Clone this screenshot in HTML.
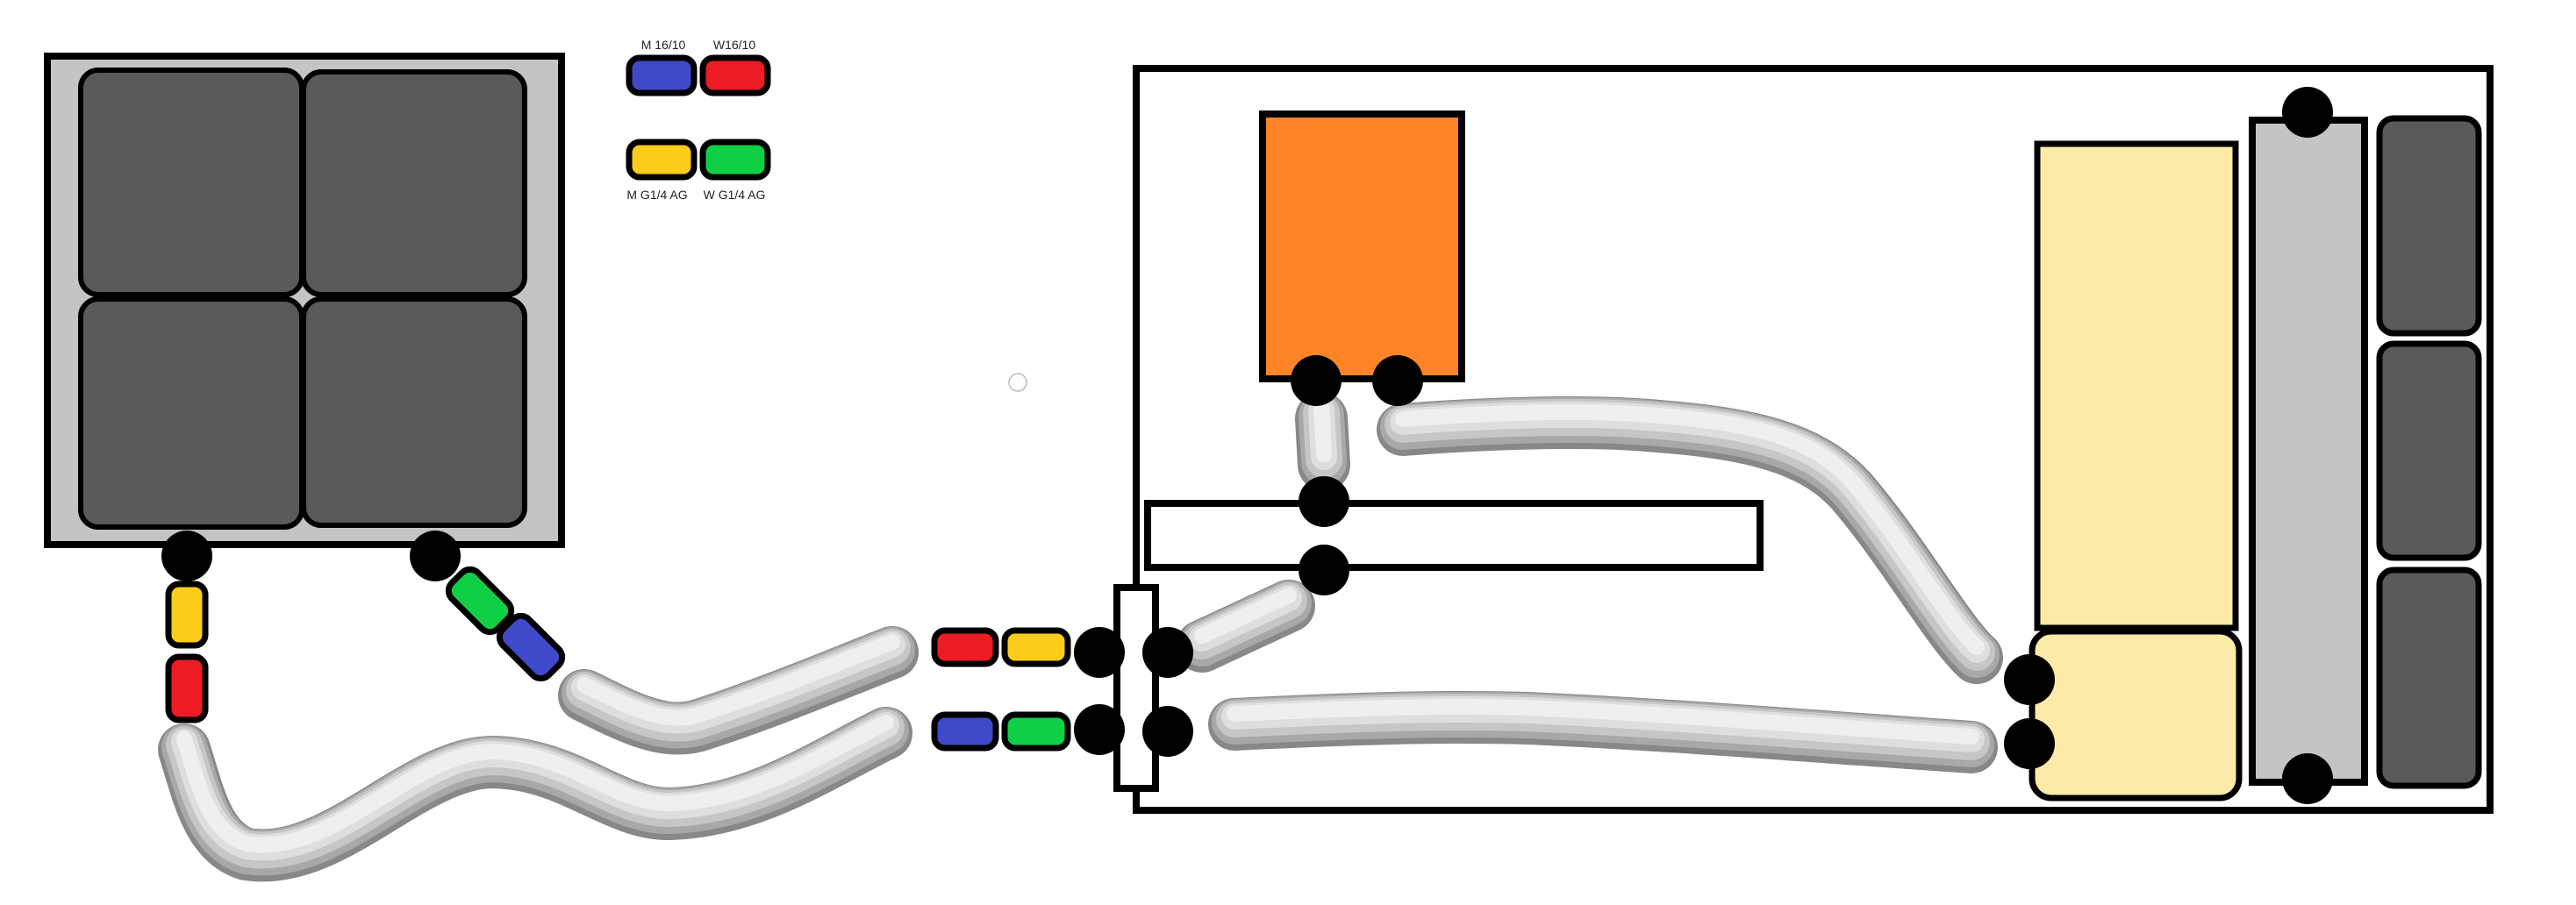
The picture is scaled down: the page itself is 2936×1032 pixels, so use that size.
<!DOCTYPE html>
<html><head><meta charset="utf-8"><style>
html,body{margin:0;padding:0;background:#fff;}
svg{display:block;}
text{font-family:"Liberation Sans",sans-serif;font-size:14px;fill:#222;}
</style></head><body>
<svg width="2936" height="1032" viewBox="0 0 2936 1032" xmlns="http://www.w3.org/2000/svg">
<defs>
<g id="tubes" fill="none" stroke-linecap="round">
  <path d="M666,793 C720,820 760,840 800,826 C880,800 950,770 1017,744"/>
  <path d="M210,855 C225,900 235,960 281,974 C380,990 470,870 561,869 C650,870 700,930 765,928 C860,925 940,870 1010,836"/>
  <path d="M1506,477 L1509,530"/>
  <path d="M1599,490 C1700,482 1800,480 1864,484 C1980,492 2060,505 2110,560 C2170,630 2220,720 2253,750"/>
  <path d="M1370,737 L1469,691"/>
  <path d="M1407,826 C1530,820 1640,816 1741,819 C1900,826 2100,842 2247,852"/>
</g>
</defs>
<rect x="54" y="64" width="586" height="557" fill="#c4c4c4" stroke="#000" stroke-width="8"/>
<g fill="#5a5a5a" stroke="#000" stroke-width="6">
<rect x="92" y="80" width="252" height="256" rx="20"/>
<rect x="346" y="82" width="252" height="254" rx="20"/>
<rect x="92" y="341" width="252" height="260" rx="20"/>
<rect x="346" y="341" width="252" height="258" rx="20"/>
</g>
<rect x="1295" y="78" width="1543" height="846" fill="#fff" stroke="#000" stroke-width="8"/>
<rect x="1439" y="130" width="227" height="302" fill="#ff8427" stroke="#000" stroke-width="8"/>
<rect x="1308" y="574" width="698" height="73" fill="#fff" stroke="#000" stroke-width="8"/>
<rect x="1273" y="670" width="44" height="229" fill="#fff" stroke="#000" stroke-width="8"/>
<rect x="2322" y="164" width="226" height="552" fill="#fbeaa8" stroke="#000" stroke-width="7"/>
<rect x="2316" y="720" width="236" height="190" rx="22" fill="#fbeaa8" stroke="#000" stroke-width="7"/>
<rect x="2567" y="137" width="128" height="755" fill="#c4c4c4" stroke="#000" stroke-width="8"/>
<g fill="#5a5a5a" stroke="#000" stroke-width="7">
<rect x="2712" y="135" width="113" height="245" rx="16"/>
<rect x="2712" y="392" width="113" height="244" rx="16"/>
<rect x="2712" y="650" width="113" height="246" rx="16"/>
</g>
<circle cx="1160" cy="436" r="10" fill="#fff" stroke="#bbb" stroke-width="1.5"/>
<use href="#tubes" stroke="#888" stroke-width="60"/>
<use href="#tubes" stroke="#a8a8a8" stroke-width="52" transform="translate(0,-3)"/>
<use href="#tubes" stroke="#c6c6c6" stroke-width="42" transform="translate(0,-6)"/>
<use href="#tubes" stroke="#dedede" stroke-width="30" transform="translate(0,-9)"/>
<use href="#tubes" stroke="#efefef" stroke-width="18" transform="translate(0,-12)"/>
<g stroke="#000" stroke-width="7">
<rect x="717" y="66" width="74" height="40" rx="12" fill="#4049c9"/>
<rect x="801" y="66" width="74" height="40" rx="12" fill="#ed1c24"/>
<rect x="717" y="162" width="74" height="40" rx="12" fill="#fecc1a"/>
<rect x="801" y="162" width="74" height="40" rx="12" fill="#0fcf45"/>
<rect x="1065" y="719" width="70" height="38" rx="12" fill="#ed1c24"/>
<rect x="1145" y="719" width="72" height="38" rx="12" fill="#fecc1a"/>
<rect x="1065" y="815" width="70" height="38" rx="12" fill="#4049c9"/>
<rect x="1145" y="815" width="72" height="38" rx="12" fill="#0fcf45"/>
<rect x="192" y="666" width="42" height="70" rx="12" fill="#fecc1a"/>
<rect x="192" y="749" width="42" height="72" rx="12" fill="#ed1c24"/>
<rect x="510" y="664" width="74" height="42" rx="13" fill="#0fcf45" transform="rotate(45 547 685)"/>
<rect x="568" y="717" width="74" height="42" rx="13" fill="#4049c9" transform="rotate(45 605 738)"/>
</g>
<text x="756" y="56" text-anchor="middle">M 16/10</text>
<text x="837" y="56" text-anchor="middle">W16/10</text>
<text x="749" y="227" text-anchor="middle">M G1/4 AG</text>
<text x="837" y="227" text-anchor="middle">W G1/4 AG</text>
<g fill="#000">
<circle cx="213" cy="634" r="29"/>
<circle cx="496" cy="634" r="29"/>
<circle cx="1500" cy="434" r="29"/>
<circle cx="1593" cy="434" r="29"/>
<circle cx="1509" cy="572" r="29"/>
<circle cx="1509" cy="650" r="29"/>
<circle cx="1253" cy="744" r="29"/>
<circle cx="1331" cy="744" r="29"/>
<circle cx="1253" cy="832" r="29"/>
<circle cx="1331" cy="834" r="29"/>
<circle cx="2313" cy="775" r="29"/>
<circle cx="2313" cy="848" r="29"/>
<circle cx="2630" cy="128" r="29"/>
<circle cx="2630" cy="888" r="29"/>
</g>
</svg>
</body></html>
